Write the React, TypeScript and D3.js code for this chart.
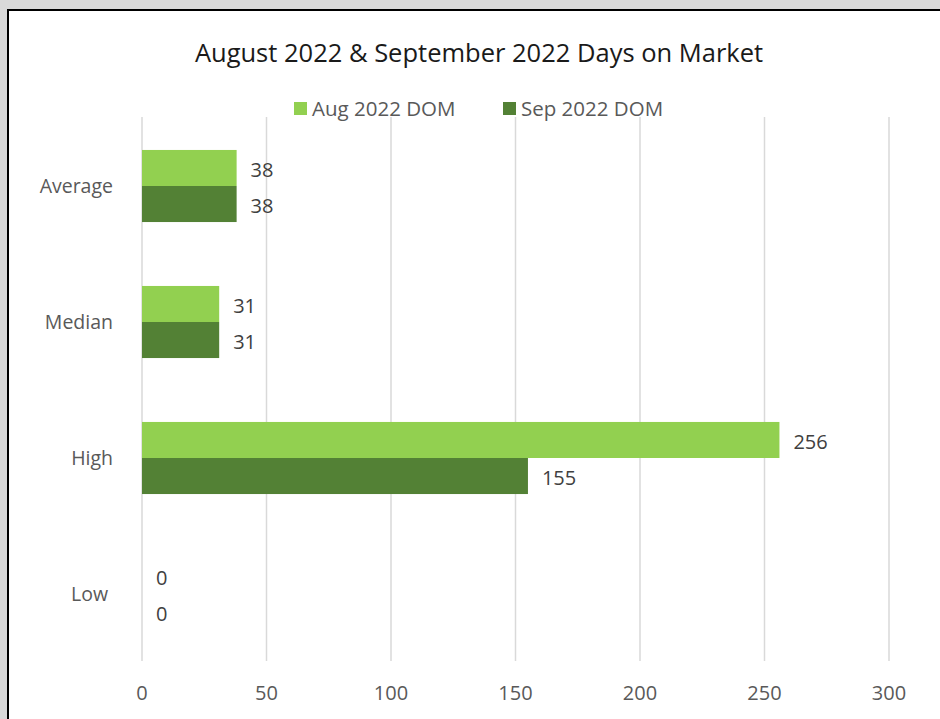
import React from "react";
import * as d3 from "d3";

const categories = ["Average", "Median", "High", "Low"];
const seriesNames = ["Aug 2022 DOM", "Sep 2022 DOM"];
const augValues = [38, 31, 256, 0];
const sepValues = [38, 31, 155, 0];
const xTicks = [0, 50, 100, 150, 200, 250, 300];
const colors = ["#92d050", "#538135"];

export default function App() {
  const W = 940, H = 719;
  const plotLeft = 142, plotRight = 889, plotTop = 117, plotBottom = 661;
  const x = d3.scaleLinear().domain([0, 300]).range([plotLeft, plotRight]);
  const y = d3.scaleBand().domain(categories).range([plotTop + 1, plotBottom + 1]).paddingInner(0.47).paddingOuter(0.235);
  const series = [augValues, sepValues];
  const font = "'Open Sans', sans-serif";
  return (
    <svg width={W} height={H} style={{ position: "absolute", left: 0, top: 0 }}>
      <rect x={0} y={0} width={W} height={H} fill="#d9d9d9" />
      <rect x={8} y={10} width={W + 20} height={H + 20} fill="#ffffff" stroke="#000" strokeWidth={2} />
      <text x={479} y={62} textAnchor="middle" fontFamily={font} fontSize={25.5} fill="#1a1a1a">
        August 2022 &amp; September 2022 Days on Market
      </text>
      {seriesNames.map((s, i) => {
        const lx = i === 0 ? 294 : 503;
        return (
          <g key={s}>
            <rect x={lx} y={102} width={13} height={13} fill={colors[i]} />
            <text x={lx + 18} y={116} fontFamily={font} fontSize={20.5} fill="#595959">{s}</text>
          </g>
        );
      })}
      {xTicks.map((t) => (
        <g key={t}>
          <line x1={x(t)} x2={x(t)} y1={plotTop} y2={plotBottom} stroke="#d9d9d9" strokeWidth={1.5} />
          <text x={x(t)} y={700} textAnchor="middle" fontFamily={font} fontSize={20} fill="#595959">{t}</text>
        </g>
      ))}
      {categories.map((c, ci) => {
        const band = y(c)!;
        const bh = y.bandwidth() / 2;
        return (
          <g key={c}>
            <text x={c === "Low" ? 108 : 113} y={band + bh + 7} textAnchor="end" fontFamily={font} fontSize={19.5} fill="#595959">{c}</text>
            {series.map((vals, si) => (
              <g key={si}>
                <rect x={x(0)} y={band + si * bh} width={x(vals[ci]) - x(0)} height={bh} fill={colors[si]} />
                <text x={x(vals[ci]) + 14} y={band + si * bh + bh / 2 + 9} fontFamily={font} fontSize={20} fill="#404040">{vals[ci]}</text>
              </g>
            ))}
          </g>
        );
      })}
    </svg>
  );
}
